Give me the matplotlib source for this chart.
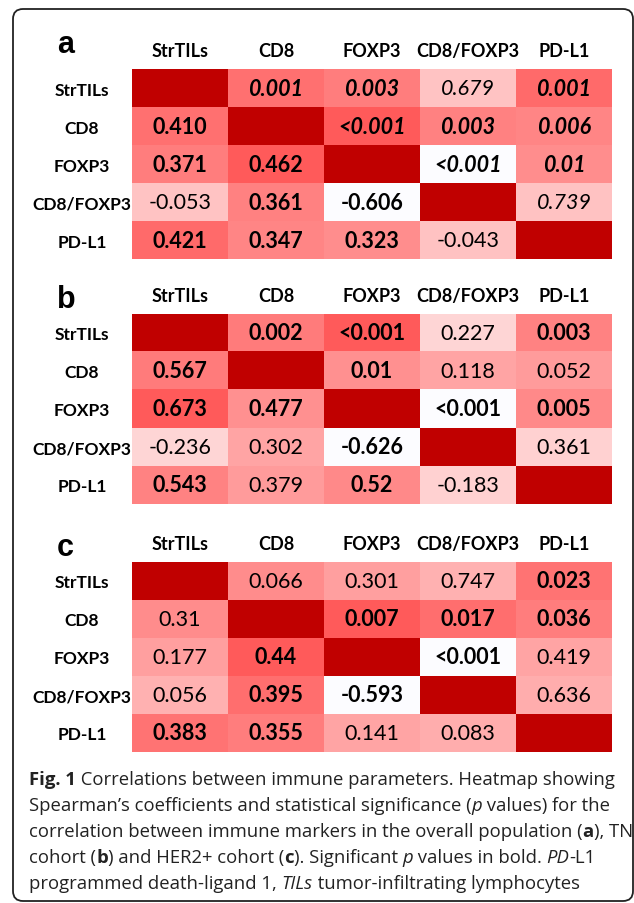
import numpy as np
import matplotlib.pyplot as plt
from matplotlib.colors import LinearSegmentedColormap, Normalize
from matplotlib.patches import FancyBboxPatch

markers = ["StrTILs", "CD8", "FOXP3", "CD8/FOXP3", "PD-L1"]

# lower triangle = Spearman coefficients, upper triangle = p values (row by row)
coef_a = ["0.410", "0.371", "0.462", "-0.053", "0.361", "-0.606", "0.421", "0.347", "0.323", "-0.043"]
p_a = ["0.001", "0.003", "0.679", "0.001", "<0.001", "0.003", "0.006", "<0.001", "0.01", "0.739"]

coef_b = ["0.567", "0.673", "0.477", "-0.236", "0.302", "-0.626", "0.543", "0.379", "0.52", "-0.183"]
p_b = ["0.002", "<0.001", "0.227", "0.003", "0.01", "0.118", "0.052", "<0.001", "0.005", "0.361"]

coef_c = ["0.31", "0.177", "0.44", "0.056", "0.395", "-0.593", "0.383", "0.355", "0.141", "0.083"]
p_c = ["0.066", "0.301", "0.747", "0.023", "0.007", "0.017", "0.036", "<0.001", "0.419", "0.636"]

panels = [("a", coef_a, p_a, True), ("b", coef_b, p_b, False), ("c", coef_c, p_c, False)]

W, H = 634, 904
fig = plt.figure(figsize=(W / 100, H / 100), dpi=100)

# background axes in pixel units for the frame, letters and caption
bg = fig.add_axes([0, 0, 1, 1])
bg.set_xlim(0, W)
bg.set_ylim(H, 0)
bg.axis("off")
bg.add_patch(FancyBboxPatch((13, 10), 620, 892, boxstyle="round,pad=0,rounding_size=10",
                            fill=False, ec="#222222", lw=1.3))

cmap = LinearSegmentedColormap.from_list("reds", [
    (0.0, "#FCFCFF"), (0.3, "#FFD5D5"), (0.52, "#FFC3C3"), (0.7, "#FFA6A6"),
    (0.87, "#FF8E8E"), (0.95, "#FF7272"), (1.0, "#FF5A5A")])
cmap.set_bad("#C00000")

cell_font = "Lato"
tops = [70, 315, 563]
letter_base = [53, 308, 556]
il = np.tril_indices(5, -1)
iu = np.triu_indices(5, 1)

for (letter, coefs, pvals, ital), top, lb in zip(panels, tops, letter_base):
    C = np.zeros((5, 5))
    C[il] = [float(v) for v in coefs]
    C = C + C.T
    P = np.ones((5, 5))
    P[iu] = [0.0005 if v.startswith("<") else float(v) for v in pvals]
    P[il] = P.T[il]
    txt = np.full((5, 5), "", dtype=object)
    txt[il] = coefs
    txt[iu] = pvals

    off = C[~np.eye(5, dtype=bool)]
    M = np.ma.masked_where(np.eye(5, dtype=bool), C)

    ax = fig.add_axes([132 / W, 1 - (top + 190) / H, 480 / W, 190 / H])
    ax.imshow(M, cmap=cmap, norm=Normalize(off.min(), off.max()), aspect="auto",
              interpolation="nearest")
    for i in range(5):
        for j in range(5):
            if i == j:
                continue
            ax.text(j, i, txt[i, j], ha="center", va="center", fontsize=15.5,
                    family=cell_font, color="black",
                    fontweight="bold" if P[i, j] < 0.05 else "normal",
                    fontstyle="italic" if (ital and j > i) else "normal")
    ax.set_xticks(range(5))
    ax.set_yticks(range(5))
    ax.xaxis.tick_top()
    ax.set_xticklabels(markers, fontweight="bold", fontsize=13, family=cell_font, va="center")
    ax.set_yticklabels(markers, fontweight="bold", fontsize=12.5, family=cell_font, ha="center")
    ax.tick_params(axis="x", length=0, pad=13)
    ax.tick_params(axis="y", length=0, pad=36)
    for s in ax.spines.values():
        s.set_visible(False)

    bg.text(57, lb, letter, fontsize=22, fontweight="bold", family="Liberation Sans",
            ha="left", va="baseline")

# caption, drawn segment by segment
caption = [
    [("Fig. 1", "b"), (" Correlations between immune parameters. Heatmap showing", "n")],
    [("Spearman\u2019s coefficients and statistical significance (", "n"), ("p", "i"),
     (" values) for the", "n")],
    [("correlation between immune markers in the overall population (", "n"), ("a", "b"),
     ("), TN", "n")],
    [("cohort (", "n"), ("b", "b"), (") and HER2+ cohort (", "n"), ("c", "b"),
     ("). Significant ", "n"), ("p", "i"), (" values in bold. ", "n"), ("PD", "i"), ("-L1", "n")],
    [("programmed death-ligand 1, ", "n"), ("TILs", "i"), (" tumor-infiltrating lymphocytes", "n")],
]
cap_font = "Open Sans"
renderer = fig.canvas.get_renderer()


def props(style, size):
    return dict(fontsize=size, family=cap_font, color="#222222",
                fontweight="bold" if style == "b" else "normal",
                fontstyle="italic" if style == "i" else "normal")


def seg_width(s, style, size):
    t1 = bg.text(0, 0, "|" + s + "|", **props(style, size))
    t2 = bg.text(0, 0, "||", **props(style, size))
    w = t1.get_window_extent(renderer).width - t2.get_window_extent(renderer).width
    t1.remove()
    t2.remove()
    return w


base_size = 14
w1 = sum(seg_width(s, st, base_size) for s, st in caption[0])
cap_size = base_size * 587 / w1

for k, line in enumerate(caption):
    x = 29
    y = 785 + 26 * k
    for s, st in line:
        bg.text(x, y, s, ha="left", va="baseline", **props(st, cap_size))
        x += seg_width(s, st, cap_size)

fig.savefig("out.png", dpi=100)
